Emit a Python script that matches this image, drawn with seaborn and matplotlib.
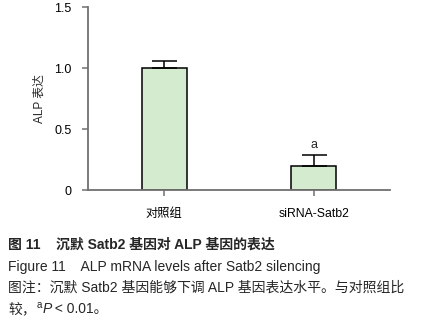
import seaborn as sns
import matplotlib.pyplot as plt
import pandas as pd

groups = ['对照组', 'siRNA-Satb2']
alp_mean = [1.0, 0.2]
alp_err = [0.055, 0.09]
sig_marks = ['', 'a']
yticks = [0, 0.5, 1.0, 1.5]
ytick_labels = ['0', '0.5', '1.0', '1.5']

sns.set_style('ticks')
plt.rcParams['font.family'] = ['Liberation Sans', 'Noto Sans CJK SC']

df = pd.DataFrame({'group': groups, 'alp': alp_mean})

fig = plt.figure(figsize=(4.23, 3.25), dpi=100)
ax = fig.add_axes([0.208, 0.415, 0.714, 0.563])

sns.barplot(data=df, x='group', y='alp', ax=ax, color='#d5ebd0',
            edgecolor='black', linewidth=1.1, width=0.3, saturation=1)
ax.errorbar(range(len(groups)), alp_mean, yerr=[[0] * len(groups), alp_err],
            fmt='none', ecolor='black', elinewidth=1.1, capsize=9, capthick=1.1)
for i, s in enumerate(sig_marks):
    if s:
        ax.text(i, alp_mean[i] + alp_err[i] + 0.03, s, ha='center', va='bottom', fontsize=9)

ax.set_xlim(-0.507, 1.507)
ax.set_ylim(0, 1.5)
ax.set_yticks(yticks)
ax.set_yticklabels(ytick_labels)
ax.set_xlabel('')
ax.set_ylabel('ALP 表达', fontsize=8.5, labelpad=6)
sns.despine(ax=ax)
for sp in ['left', 'bottom']:
    ax.spines[sp].set_color('#707070')
    ax.spines[sp].set_linewidth(1.3)
ax.tick_params(axis='both', colors='#707070', width=1.1, length=4, labelsize=9, labelcolor='black')
ax.tick_params(axis='y', pad=8)
ax.tick_params(axis='x', pad=9, labelsize=8.8)

# caption
fs = 10
fig.text(8 / 423, 1 - 245 / 325, '图 11    沉默 Satb2 基因对 ALP 基因的表达', fontsize=fs,
         fontweight='bold', va='center', ha='left')
fig.text(8 / 423, 1 - 267 / 325, 'Figure 11    ALP mRNA levels after Satb2 silencing', fontsize=fs,
         va='center', ha='left')
fig.text(8 / 423, 1 - 288 / 325, '图注：沉默 Satb2 基因能够下调 ALP 基因表达水平。与对照组比', fontsize=fs,
         va='center', ha='left')

y4 = 1 - 309 / 325
r = fig.canvas.get_renderer()
t1 = fig.text(8 / 423, y4, '较，', fontsize=fs, va='center', ha='left')
x = t1.get_window_extent(r).x1 / fig.bbox.width
t2 = fig.text(x + 1 / 423, y4 + 4 / 325, 'a', fontsize=7, va='center', ha='left')
x = t2.get_window_extent(r).x1 / fig.bbox.width
t3 = fig.text(x, y4, 'P', fontsize=fs, style='italic', va='center', ha='left')
x = t3.get_window_extent(r).x1 / fig.bbox.width
fig.text(x, y4, ' < 0.01。', fontsize=fs, va='center', ha='left')

fig.savefig('out.png', dpi=100)
